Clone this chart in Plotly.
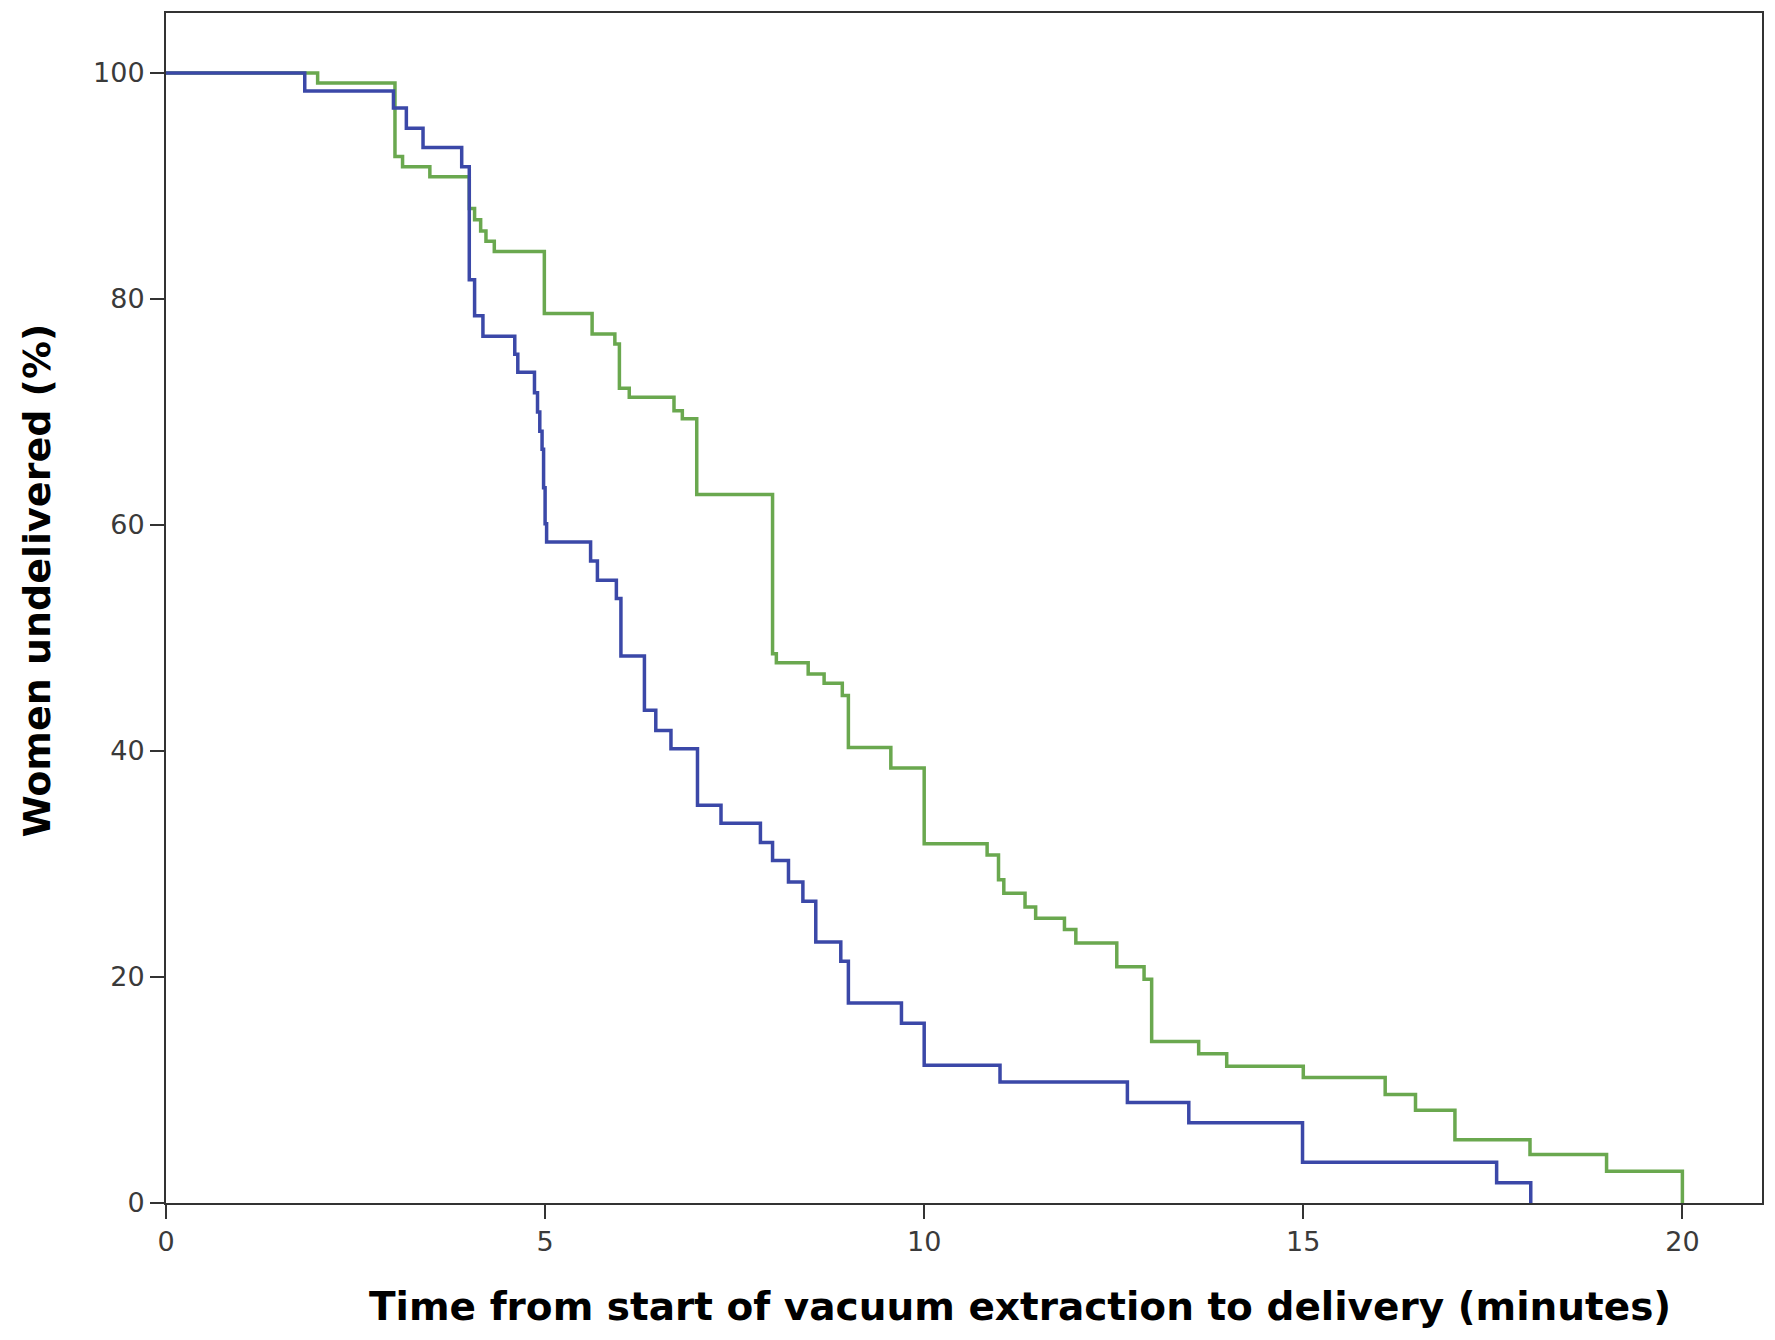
import plotly.graph_objects as go

# Group 1 (blue): time of each step (minutes) and % undelivered after the step
times_a = [0, 1.83, 3.0, 3.17, 3.39, 3.9, 4.0, 4.07, 4.18, 4.6, 4.64, 4.86, 4.9, 4.93, 4.96,
           4.98, 5.0, 5.02, 5.6, 5.69, 5.94, 6.0, 6.31, 6.46, 6.66, 7.01, 7.32, 7.84, 8.0, 8.21,
           8.4, 8.57, 8.9, 9.0, 9.7, 10.0, 11.0, 12.68, 13.49, 14.99, 17.55, 18.0]
values_a = [100, 98.4, 96.9, 95.1, 93.4, 91.7, 81.7, 78.5, 76.7, 75.1, 73.5, 71.7, 70.0, 68.3, 66.7,
            63.3, 60.1, 58.5, 56.8, 55.1, 53.5, 48.4, 43.6, 41.8, 40.2, 35.2, 33.6, 31.9, 30.3, 28.4,
            26.7, 23.1, 21.4, 17.7, 15.9, 12.2, 10.7, 8.9, 7.1, 3.6, 1.8, 0]

# Group 2 (green)
times_b = [0, 2.0, 3.02, 3.12, 3.48, 4.0, 4.07, 4.15, 4.22, 4.33, 4.99, 5.62, 5.92, 5.98, 6.11,
           6.7, 6.81, 7.0, 8.0, 8.05, 8.47, 8.68, 8.92, 9.0, 9.56, 10.0, 10.83, 10.98, 11.05, 11.33,
           11.47, 11.85, 12.0, 12.54, 12.9, 13.0, 13.62, 13.99, 15.0, 16.08, 16.48, 17.0, 17.99, 19.0, 20.0]
values_b = [100, 99.1, 92.6, 91.7, 90.8, 88.0, 87.0, 86.0, 85.1, 84.2, 78.7, 76.9, 76.0, 72.1, 71.3,
            70.1, 69.4, 62.7, 48.6, 47.8, 46.8, 46.0, 44.9, 40.3, 38.5, 31.8, 30.8, 28.6, 27.4, 26.2,
            25.2, 24.2, 23.0, 20.9, 19.8, 14.3, 13.2, 12.1, 11.1, 9.6, 8.2, 5.6, 4.3, 2.8, 0]

x_ticks = [0, 5, 10, 15, 20]
y_ticks = [0, 20, 40, 60, 80, 100]

x_title = "Time from start of vacuum extraction to delivery (minutes)"
y_title = "Women undelivered (%)"

fig = go.Figure()
fig.add_trace(go.Scatter(x=times_b, y=values_b, mode="lines", line=dict(shape="hv", color="#6aa84f", width=3.5),
                         showlegend=False, hoverinfo="skip"))
fig.add_trace(go.Scatter(x=times_a, y=values_a, mode="lines", line=dict(shape="hv", color="#3b48a8", width=3.5),
                         showlegend=False, hoverinfo="skip"))

axis_common = dict(showline=True, linecolor="#333333", linewidth=2, mirror=True, showgrid=False,
                   zeroline=False, ticks="outside", ticklen=14, tickwidth=2, tickcolor="#333333",
                   tickfont=dict(family="DejaVu Sans", size=27, color="#3a3a3a"))

fig.update_xaxes(range=[0, 21.05], tickvals=x_ticks, **axis_common)
fig.update_yaxes(range=[0, 105.3], tickvals=y_ticks, **axis_common)

fig.add_annotation(text=x_title, xref="paper", yref="paper", x=0.535, y=-0.087, showarrow=False,
                   xanchor="center", yanchor="middle",
                   font=dict(family="DejaVu Sans", size=39, color="#000000", weight="bold"))
fig.add_annotation(text=y_title, xref="paper", yref="paper", x=-0.081, y=0.523, showarrow=False,
                   textangle=-90, xanchor="center", yanchor="middle",
                   font=dict(family="DejaVu Sans", size=38, color="#000000", weight="bold"))

fig.update_layout(width=1775, height=1340, margin=dict(l=166, r=11, t=11, b=137),
                  plot_bgcolor="white", paper_bgcolor="white")

fig.write_html("out.html")
